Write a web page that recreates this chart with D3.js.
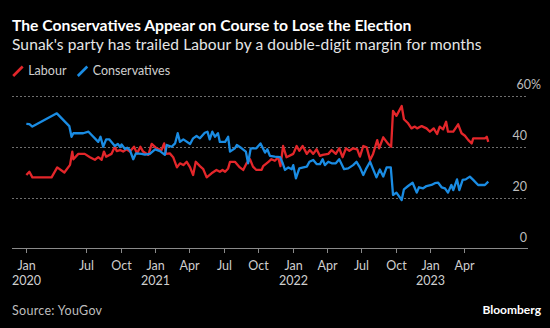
<!DOCTYPE html>
<html>
<head>
<meta charset="utf-8">
<script src="https://cdn.jsdelivr.net/npm/d3@7"></script>
<style>
  html, body { margin: 0; padding: 0; background: #000; }
  svg { display: block; font-family: Lato, "Noto Sans", sans-serif; }
</style>
</head>
<body>
<svg id="chart" width="550" height="328"></svg>
<script>
// YouGov voting intention, %
var labour = [
  ["2020-01-24",29],["2020-02-01",30.3],["2020-02-09",28.1],["2020-03-31",28.1],["2020-04-15",32],
  ["2020-05-04",30],["2020-05-19",33],["2020-05-25",38.2],["2020-05-28",35.2],["2020-06-10",37.3],
  ["2020-06-27",37.3],["2020-07-11",36],["2020-07-24",35],["2020-08-02",36],["2020-08-11",35],
  ["2020-08-17",38.2],["2020-08-23",36.2],["2020-09-06",37.3],["2020-09-15",40.1],["2020-09-20",38.4],
  ["2020-09-29",38.8],["2020-10-07",38.2],["2020-10-16",39.1],["2020-10-25",38.2],["2020-11-05",40.1],
  ["2020-11-13",37.5],["2020-11-22",40.1],["2020-11-29",38.2],["2020-12-13",36.9],["2020-12-22",41.2],
  ["2021-01-04",39.5],["2021-01-17",38.8],["2021-01-24",41.4],["2021-01-29",37.3],["2021-02-08",37.5],
  ["2021-02-17",36],["2021-02-27",32],["2021-03-07",33.6],["2021-03-16",32.9],["2021-03-25",34.2],
  ["2021-04-03",32],["2021-04-11",29],["2021-04-18",34.2],["2021-04-29",32.5],["2021-05-08",31.3],
  ["2021-05-17",28.1],["2021-05-30",29.7],["2021-06-12",31],["2021-06-21",30.3],["2021-06-28",31],
  ["2021-07-05",30.3],["2021-07-13",31.6],["2021-07-18",34.2],["2021-07-31",34.2],["2021-08-13",32],
  ["2021-08-22",31],["2021-08-31",33.6],["2021-09-09",35.2],["2021-09-17",32.3],["2021-09-26",31],
  ["2021-10-10",31],["2021-10-14",32.5],["2021-10-28",34.2],["2021-11-05",35.2],["2021-11-14",34.6],
  ["2021-11-23",36],["2021-11-29",32.5],["2021-12-06",40.4],["2021-12-15",36],["2022-01-02",37.3],
  ["2022-01-11",40.4],["2022-01-18",38.5],["2022-01-27",40.4],["2022-02-07",37.3],["2022-02-15",38.8],
  ["2022-02-24",37.3],["2022-03-05",39.1],["2022-03-14",36.5],["2022-03-21",36.9],["2022-04-05",37.3],
  ["2022-04-14",38.8],["2022-04-25",37.3],["2022-05-04",39.5],["2022-05-13",36],["2022-05-22",39.5],
  ["2022-05-31",38.5],["2022-06-10",39.5],["2022-06-21",39.1],["2022-06-28",36.2],["2022-07-07",40.4],
  ["2022-07-16",39.9],["2022-07-25",34.9],["2022-08-02",37.3],["2022-08-13",42.7],["2022-08-18",39.5],
  ["2022-08-29",43.8],["2022-09-10",41.4],["2022-09-19",40.1],["2022-09-24",54.2],["2022-10-03",52.2],
  ["2022-10-17",56.1],["2022-10-23",50.9],["2022-11-03",49.3],["2022-11-12",47.3],["2022-11-21",48],
  ["2022-11-27",47.3],["2022-12-09",48.2],["2022-12-22",47.3],["2022-12-31",46],["2023-01-10",47.3],
  ["2023-01-19",45.1],["2023-01-26",48],["2023-02-04",46.9],["2023-02-12",49.9],["2023-02-17",46],
  ["2023-03-03",46],["2023-03-16",48.9],["2023-03-25",45.4],["2023-04-03",44.4],["2023-04-12",42.7],
  ["2023-04-21",41.4],["2023-04-25",43.4],["2023-05-26",43.4],["2023-05-31",44],["2023-06-04",42]
];

var conservatives = [
  ["2020-01-24",49.1],["2020-02-01",49],["2020-02-09",48],["2020-04-14",53.2],["2020-05-17",48.2],
  ["2020-05-23",44],["2020-05-28",45.4],["2020-06-23",45.4],["2020-07-07",46],["2020-08-02",42],
  ["2020-08-08",44],["2020-08-15",40.1],["2020-08-23",43],["2020-08-31",43],["2020-09-15",40.4],
  ["2020-09-23",41.2],["2020-09-29",40],["2020-10-03",41],["2020-10-12",39.2],["2020-10-18",39.7],
  ["2020-10-25",38.8],["2020-11-03",35.2],["2020-11-10",37.5],["2020-11-25",37.3],["2020-12-04",37],
  ["2020-12-17",37.3],["2020-12-31",39.1],["2021-01-13",38.4],["2021-01-26",36.9],["2021-01-31",40.8],
  ["2021-02-13",40.1],["2021-02-22",41.4],["2021-03-01",45.4],["2021-03-07",42],["2021-03-16",43],
  ["2021-04-03",41.2],["2021-04-11",43.4],["2021-04-20",44.3],["2021-04-29",43.4],["2021-05-12",45.6],
  ["2021-05-19",46],["2021-05-25",43],["2021-06-01",46],["2021-06-08",44],["2021-06-16",45.4],
  ["2021-06-21",42],["2021-07-05",42],["2021-07-13",44],["2021-07-18",38.2],["2021-07-31",39.5],
  ["2021-08-05",40.8],["2021-08-18",39.5],["2021-08-29",38.2],["2021-09-04",33.6],["2021-09-11",39.5],
  ["2021-09-26",39.5],["2021-10-07",41.4],["2021-10-19",37.8],["2021-10-25",39.1],["2021-11-01",36.5],
  ["2021-11-14",36.2],["2021-11-28",36],["2021-12-05",33.6],["2021-12-11",31],["2021-12-20",32],
  ["2021-12-29",31.3],["2022-01-02",32.9],["2022-01-09",27.7],["2022-01-18",31.6],["2022-01-29",32],
  ["2022-02-07",32.3],["2022-02-14",34.2],["2022-02-24",34.9],["2022-03-05",33.3],["2022-03-14",33.3],
  ["2022-03-21",35.2],["2022-03-27",32.9],["2022-04-05",34.2],["2022-04-14",33.6],["2022-04-25",33.6],
  ["2022-05-04",35.2],["2022-05-17",31.3],["2022-05-28",31.6],["2022-06-10",32.9],["2022-06-19",34.2],
  ["2022-06-28",32],["2022-07-07",29],["2022-07-14",31.3],["2022-07-25",34.2],["2022-08-02",31.3],
  ["2022-08-11",28.1],["2022-08-20",31.2],["2022-08-29",28.4],["2022-09-07",32],["2022-09-18",32],
  ["2022-09-24",21.2],["2022-10-03",22.1],["2022-10-17",19.2],["2022-10-23",23.4],["2022-11-03",24.7],
  ["2022-11-15",26],["2022-11-26",22.1],["2022-12-02",24.2],["2022-12-13",23.8],["2022-12-22",24.7],
  ["2023-01-04",25.1],["2023-01-13",25.8],["2023-01-22",26],["2023-01-31",24.2],["2023-02-09",23.8],
  ["2023-02-17",22.1],["2023-02-26",25.1],["2023-03-03",23.1],["2023-03-13",27.3],["2023-03-19",23.1],
  ["2023-03-28",27.1],["2023-04-05",27.3],["2023-04-16",28.4],["2023-04-25",27.1],["2023-05-08",25.1],
  ["2023-05-26",25.1],["2023-06-04",26.4]
];

var seriesNames = ["Labour", "Conservatives"];
var seriesColors = ["#e3262a", "#1a8ce3"];

var yTicks = [0, 20, 40, 60];
var xTickDates = ["2020-01-24", "2020-07-01", "2020-10-01", "2021-01-01", "2021-04-01", "2021-07-01",
  "2021-10-01", "2022-01-01", "2022-04-01", "2022-07-01", "2022-10-01", "2023-01-01", "2023-04-01"];
var xTickMonths = ["Jan", "Jul", "Oct", "Jan", "Apr", "Jul", "Oct", "Jan", "Apr", "Jul", "Oct", "Jan", "Apr"];
var xTickYears = ["2020", "", "", "2021", "", "", "", "2022", "", "", "", "2023", ""];

var parse = d3.timeParse("%Y-%m-%d");
var svg = d3.select("#chart");

// plot frame
var left = 12, right = 527, yTop = 96, yBase = 249;

var x = d3.scaleTime()
  .domain([new Date(2020, 0, 1), new Date(2023, 0, 1)])
  .range([17.7, 430.3]);
var y = d3.scaleLinear().domain([0, 60]).range([yBase, yTop]);

svg.append("rect").attr("width", 550).attr("height", 328).attr("fill", "#000");

// titles
svg.append("text").attr("x", 12).attr("y", 31)
  .attr("fill", "#fff").attr("font-size", 15.7).attr("font-weight", 700)
  .text("The Conservatives Appear on Course to Lose the Election");
svg.append("text").attr("x", 12).attr("y", 50)
  .attr("fill", "#e6e6e6").attr("font-size", 15.5).attr("letter-spacing", 0.12)
  .text("Sunak's party has trailed Labour by a double-digit margin for months");

// legend
var legend = svg.append("g");
var legendX = [12.7, 77.3];
seriesNames.forEach(function(name, i) {
  var g = legend.append("g").attr("transform", "translate(" + legendX[i] + ",0)");
  g.append("line").attr("x1", 0.5).attr("y1", 76).attr("x2", 10).attr("y2", 66.5)
    .attr("stroke", seriesColors[i]).attr("stroke-width", 2.6);
  g.append("text").attr("x", 15.5).attr("y", 75)
    .attr("fill", "#cfcfcf").attr("font-size", 12.5).text(name);
});

// gridlines + right-hand value labels
var grid = svg.append("g");
grid.selectAll("line").data(yTicks.filter(function(d) { return d > 0; }))
  .enter().append("line")
  .attr("x1", left).attr("x2", right)
  .attr("y1", function(d) { return Math.round(y(d)) + 0.5; })
  .attr("y2", function(d) { return Math.round(y(d)) + 0.5; })
  .attr("stroke", "#6e6e6e").attr("stroke-width", 1)
  .attr("stroke-dasharray", "2,2");

grid.selectAll("text").data(yTicks)
  .enter().append("text")
  .attr("x", right).attr("y", function(d) { return y(d) - 7; })
  .attr("text-anchor", "end")
  .attr("fill", "#bdbdbd").attr("font-size", 12.5)
  .text(function(d) { return d; })
  .filter(function(d) { return d === 60; })
  .append("tspan").text("%");
// the % hangs past the column of numbers
grid.selectAll("text").filter(function(d) { return d === 60; })
  .attr("text-anchor", "start").attr("x", right - 10.5);

// x axis
var xAxis = svg.append("g");
xAxis.append("line").attr("x1", left).attr("x2", right + 1)
  .attr("y1", yBase - 0.5).attr("y2", yBase - 0.5)
  .attr("stroke", "#8a8a8a").attr("stroke-width", 1);

var ticks = xAxis.selectAll(".tick").data(xTickDates)
  .enter().append("g").attr("class", "tick")
  .attr("transform", function(d) { return "translate(" + (Math.round(x(parse(d))) + 0.5) + ",0)"; });
ticks.append("line").attr("y1", yBase).attr("y2", yBase + 4)
  .attr("stroke", "#8a8a8a");
ticks.append("text").attr("y", 270).attr("text-anchor", "middle")
  .attr("fill", "#cfcfcf").attr("font-size", 12.5)
  .text(function(d, i) { return xTickMonths[i]; });
ticks.append("text").attr("y", 285).attr("text-anchor", "middle")
  .attr("fill", "#cfcfcf").attr("font-size", 12.5)
  .text(function(d, i) { return xTickYears[i]; });

// lines
var line = d3.line()
  .x(function(d) { return x(parse(d[0])); })
  .y(function(d) { return y(d[1]); });

[labour, conservatives].forEach(function(series, i) {
  svg.append("path").datum(series)
    .attr("d", line)
    .attr("fill", "none")
    .attr("stroke", seriesColors[i])
    .attr("stroke-width", 2.3)
    .attr("stroke-linejoin", "round");
});

// footer
svg.append("text").attr("x", 12).attr("y", 314.5)
  .attr("fill", "#bdbdbd").attr("font-size", 12.5).attr("letter-spacing", 0.3)
  .text("Source: YouGov");
svg.append("text").attr("x", 541).attr("y", 314).attr("text-anchor", "end")
  .attr("fill", "#fff").attr("font-size", 12).attr("font-weight", 700).text("Bloomberg");
</script>
</body>
</html>
